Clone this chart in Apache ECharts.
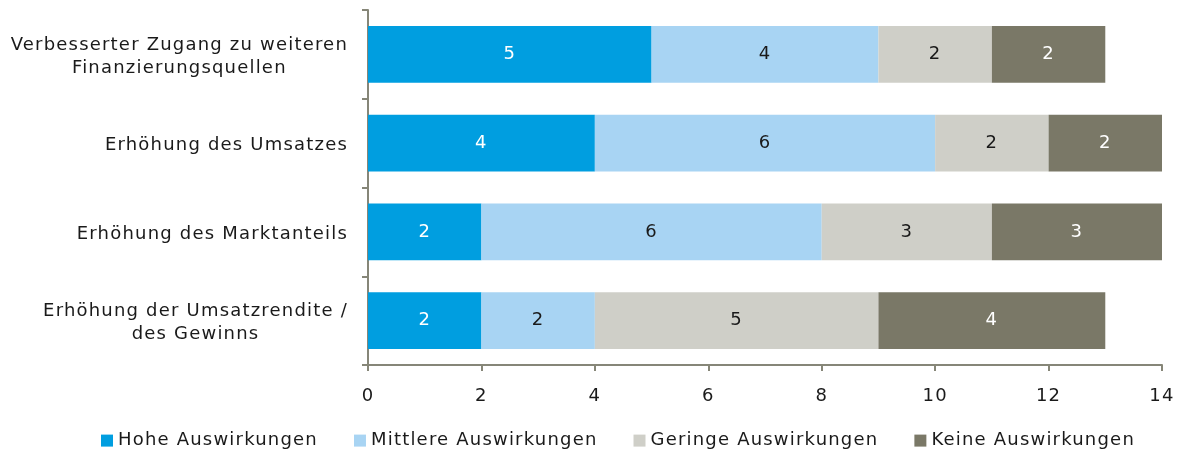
<!DOCTYPE html>
<html>
<head>
<meta charset="utf-8">
<script src="https://cdn.jsdelivr.net/npm/echarts@6/dist/echarts.min.js"></script>
<style>
html,body{margin:0;padding:0;background:#fff;}
#chart{width:1182px;height:452px;}
</style>
</head>
<body>
<div id="chart"></div>
<script>
var categories = [
  'Verbesserter Zugang zu weiteren\nFinanzierungsquellen',
  'Erhöhung des Umsatzes',
  'Erhöhung des Marktanteils',
  'Erhöhung der Umsatzrendite /\ndes Gewinns'
];
var seriesNames = ['Hohe Auswirkungen', 'Mittlere Auswirkungen', 'Geringe Auswirkungen', 'Keine Auswirkungen'];
var hohe = [5, 4, 2, 2];
var mittlere = [4, 6, 6, 2];
var geringe = [2, 2, 3, 5];
var keine = [2, 2, 3, 4];
var xTicks = [0, 2, 4, 6, 8, 10, 12, 14];

// wide, slightly letter-spaced text like the reference
var LS = '1.2px';
(function () {
  var P = CanvasRenderingContext2D.prototype;
  var f = P.fillText, m = P.measureText;
  P.fillText = function () { this.letterSpacing = LS; return f.apply(this, arguments); };
  P.measureText = function () { this.letterSpacing = LS; return m.apply(this, arguments); };
})();

var colors = ['#009EE0', '#A8D4F3', '#CFCFC8', '#7A7867'];
var labelColors = ['#ffffff', '#1a1a1a', '#1a1a1a', '#ffffff'];
var FONT = 'DejaVu Sans';
var FS = 18;
var values = [hohe, mittlere, geringe, keine];

var chart = echarts.init(document.getElementById('chart'), null, {renderer: 'canvas'});
var series = seriesNames.map(function (name, i) {
  return {
    name: name,
    type: 'bar',
    stack: 'total',
    data: values[i],
    barWidth: '64%',
    itemStyle: {color: colors[i]},
    label: {
      show: true,
      position: 'inside',
      color: labelColors[i],
      fontFamily: FONT,
      fontSize: FS
    }
  };
});

chart.setOption({
  animation: false,
  textStyle: {fontFamily: FONT},
  grid: {left: 368, right: 20, top: 10, bottom: 87, containLabel: false},
  legend: {
    data: seriesNames,
    top: 431,
    left: 101,
    padding: 0,
    itemWidth: 12,
    itemHeight: 12,
    itemGap: 36,
    icon: 'rect',
    textStyle: {fontFamily: FONT, fontSize: FS, color: '#1a1a1a'}
  },
  xAxis: {
    type: 'value',
    min: xTicks[0],
    max: xTicks[xTicks.length - 1],
    interval: 2,
    splitLine: {show: false},
    axisLine: {show: true, lineStyle: {color: '#868678', width: 2}},
    axisTick: {show: true, length: 6, lineStyle: {color: '#868678', width: 2}},
    axisLabel: {fontFamily: FONT, fontSize: FS, color: '#1a1a1a', margin: 22}
  },
  yAxis: {
    type: 'category',
    inverse: true,
    data: categories,
    axisLine: {show: true, lineStyle: {color: '#868678', width: 2}},
    axisTick: {show: true, length: 6, alignWithLabel: false, lineStyle: {color: '#868678', width: 2}},
    axisLabel: {
      margin: 20,
      fontFamily: FONT,
      fontSize: FS,
      color: '#1a1a1a',
      lineHeight: 23,
      padding: [5, 0, 0, 0],
      formatter: function (v) {
        return v.split('\n').map(function (l) { return '{c|' + l + '}'; }).join('\n');
      },
      rich: {c: {align: 'center', fontFamily: FONT, fontSize: FS, color: '#1a1a1a', lineHeight: 23}}
    }
  },
  series: series
});
</script>
</body>
</html>
